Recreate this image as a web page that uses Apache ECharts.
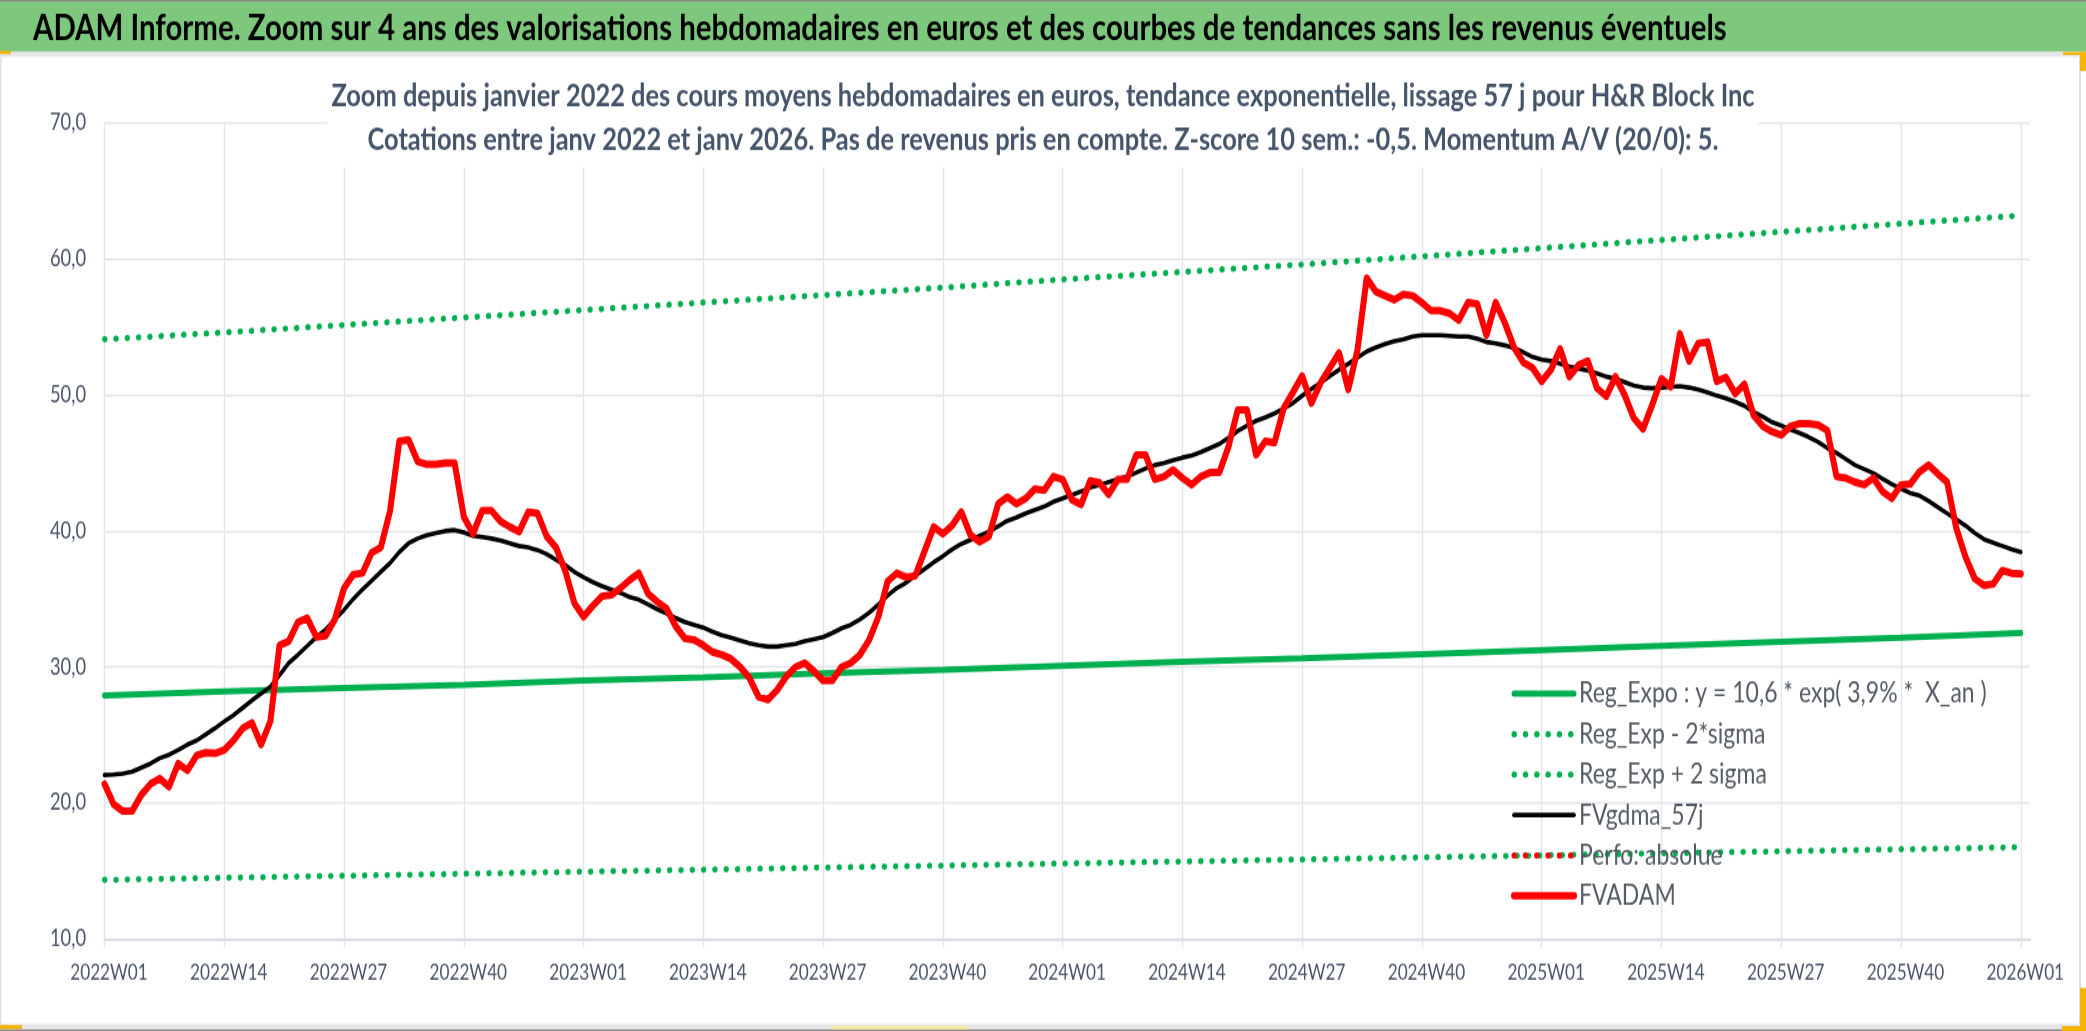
<!DOCTYPE html>
<html>
<head>
<meta charset="utf-8">
<script src="https://cdn.jsdelivr.net/npm/echarts@6/dist/echarts.min.js"></script>
<style>
html,body{margin:0;padding:0;background:#fff;overflow:hidden;}
#wrap{width:2086px;height:1031px;overflow:hidden;position:relative;}
#chart{width:2086px;height:825px;transform-origin:0 0;}
</style>
</head>
<body>
<div id="wrap"><div id="chart"></div></div>
<script>
// ---------- DATA ----------
const TITLE = "ADAM Informe. Zoom sur 4 ans des valorisations hebdomadaires en euros et des courbes de tendances sans les revenus éventuels";
const SUB1 = "Zoom depuis janvier 2022 des cours moyens hebdomadaires en euros, tendance exponentielle, lissage 57 j pour H&R Block Inc";
const SUB2 = "Cotations entre janv 2022 et janv 2026. Pas de revenus pris en compte. Z-score 10 sem.: -0,5. Momentum A/V (20/0): 5.";

const years = [2022, 2023, 2024, 2025];
const weeksPerYear = 52;
const tailWeeks = ["2026W01", "2026W02"];

// FVADAM (red), weekly values
const fvadam = [
21.4,19.9,19.4,19.4,20.6,21.4,21.8,21.2,22.9,22.4,
23.5,23.7,23.65,23.9,24.6,25.5,25.9,24.3,26.0,31.6,
31.9,33.3,33.6,32.2,32.3,33.5,35.8,36.8,36.9,38.4,
38.8,41.5,46.6,46.7,45.1,44.9,44.9,45.0,45.0,41.05,
39.8,41.5,41.5,40.7,40.3,39.95,41.4,41.3,39.6,38.8,
37.1,34.7,33.7,34.5,35.2,35.3,35.8,36.4,36.9,35.4,
34.8,34.3,33.0,32.1,32.0,31.6,31.1,30.9,30.6,30.0,
29.2,27.8,27.6,28.3,29.3,30.0,30.3,29.7,29.0,29.0,
30.0,30.3,30.9,32.0,33.7,36.3,36.9,36.6,36.7,38.5,
40.3,39.8,40.4,41.4,39.7,39.2,39.6,42.0,42.5,42.0,
42.4,43.1,43.0,44.0,43.8,42.3,41.95,43.7,43.55,42.7,
43.8,43.8,45.6,45.6,43.8,44.0,44.5,43.9,43.4,44.0,
44.3,44.3,46.2,48.9,48.9,45.6,46.6,46.5,49.05,50.2,
51.4,49.4,50.9,52.0,53.1,50.4,53.3,58.6,57.6,57.3,
57.0,57.4,57.3,56.8,56.2,56.2,56.0,55.5,56.8,56.7,
54.4,56.8,55.3,53.5,52.4,52.0,51.0,51.85,53.4,51.35,
52.2,52.5,50.5,49.9,51.35,50.0,48.3,47.5,49.3,51.2,
50.6,54.5,52.5,53.8,53.9,51.0,51.3,50.1,50.8,48.5,
47.7,47.3,47.05,47.7,47.9,47.9,47.8,47.4,44.0,43.9,
43.6,43.4,43.9,42.9,42.4,43.4,43.45,44.35,44.85,44.2,
43.6,40.2,38.1,36.5,36.0,36.1,37.1,36.9,36.85
];

// FVgdma_57j (black), weekly values
const fvgdma = [
22.06,22.1,22.16,22.3,22.6,22.9,23.3,23.55,23.9,24.3,
24.6,25.05,25.5,26.0,26.45,27.0,27.55,28.05,28.55,29.4,
30.3,30.9,31.55,32.2,32.75,33.5,34.2,35.0,35.7,36.35,
37.0,37.65,38.45,39.1,39.45,39.7,39.85,40.0,40.07,39.9,
39.65,39.55,39.45,39.3,39.1,38.9,38.8,38.6,38.3,37.9,
37.5,37.0,36.6,36.25,35.95,35.7,35.45,35.15,34.95,34.6,
34.25,33.95,33.6,33.3,33.1,32.9,32.6,32.35,32.15,31.95,
31.75,31.6,31.5,31.5,31.6,31.7,31.9,32.05,32.2,32.5,
32.85,33.1,33.5,34.0,34.6,35.25,35.8,36.2,36.7,37.2,
37.7,38.15,38.65,39.05,39.35,39.65,39.95,40.35,40.75,41.0,
41.3,41.55,41.8,42.15,42.4,42.65,42.9,43.2,43.4,43.6,
43.8,44.0,44.3,44.6,44.85,45.0,45.2,45.4,45.55,45.8,
46.1,46.4,46.85,47.35,47.75,48.1,48.35,48.65,49.0,49.4,
49.95,50.45,50.9,51.4,51.85,52.3,52.75,53.2,53.5,53.75,
53.95,54.1,54.3,54.4,54.4,54.4,54.35,54.3,54.3,54.15,
53.9,53.8,53.65,53.45,53.15,52.8,52.6,52.5,52.3,52.1,
51.95,51.8,51.6,51.35,51.2,50.95,50.7,50.55,50.5,50.55,
50.6,50.65,50.55,50.4,50.2,49.95,49.75,49.5,49.2,48.75,
48.4,48.0,47.75,47.45,47.2,46.9,46.55,46.1,45.75,45.3,
44.85,44.55,44.25,43.85,43.45,43.1,42.8,42.6,42.2,41.75,
41.3,40.85,40.4,39.85,39.4,39.15,38.9,38.65,38.45
];

// Trend lines, read at each labelled week (every 13 weeks)
const tickStep = 13;
const regExpo  = [27.9,28.2,28.45,28.7,29.0,29.25,29.55,29.8,30.1,30.4,30.65,30.95,31.25,31.55,31.85,32.15,32.5];
const regUpper = [54.1,54.6,55.15,55.7,56.25,56.8,57.35,57.9,58.5,59.05,59.6,60.2,60.8,61.4,62.0,62.6,63.2];
const regLower = [14.35,14.5,14.65,14.8,14.95,15.1,15.25,15.4,15.55,15.7,15.85,16.0,16.15,16.3,16.45,16.6,16.75];

const seriesNames = [
  "Reg_Expo : y = 10,6 * exp( 3,9% *  X_an )",
  "Reg_Exp - 2*sigma",
  "Reg_Exp + 2 sigma",
  "FVgdma_57j",
  "Perfo: absolue",
  "FVADAM"
];

// ---------- BUILD ----------
const categories = [];
years.forEach(y => { for (let w = 1; w <= weeksPerYear; w++) categories.push(y + "W" + (w < 10 ? "0" + w : w)); });
tailWeeks.forEach(c => categories.push(c));
const atTicks = arr => arr.map((v, k) => [k * tickStep, v]);

// The reference picture is vertically stretched; the chart is drawn at a
// smaller height and stretched by CSS to the full 1031 px.
const FULL_H = 1031, INNER_H = 825, S = FULL_H / INNER_H;
const el = document.getElementById('chart');
el.style.transform = 'scaleY(' + S + ')';
const Y = v => v / S;

const FAM = "Lato, 'Open Sans', sans-serif";
const mctx = document.createElement('canvas').getContext('2d');
function fit(text, weight, target) {
  mctx.font = weight + ' 100px ' + FAM;
  return 100 * target / mctx.measureText(text).width;
}
const titleSize = fit(TITLE, 'bold', 1695);
const subSize = fit(SUB1, 'bold', 1424);
const legSize = fit(seriesNames[0], 'normal', 408);
const yLabSize = fit('70,0', 'normal', 36);
const xLabSize = fit('2022W01', 'normal', 77.6);

const GREEN = '#00B050', RED = '#FF0000', BLACK = '#000000';
const LABEL = '#4A5468';
const GRIDC = '#E1E4EA';
const dotted = { type: [0.5, 10.8], cap: 'round', width: 5 };
const handle = '#F4B400';

const chart = echarts.init(el, null, { renderer: 'canvas', width: 2086, height: INNER_H });
const titleLH = Math.round(titleSize * 1.2);

const rect = (x, y, w, h, fill, z) => ({ type: 'rect', z: z || -9, shape: { x: x, y: Y(y), width: w, height: Y(h) }, style: { fill: fill } });

const option = {
  animation: false,
  backgroundColor: '#ffffff',
  graphic: [
    rect(0, 0, 2086, 52, '#7EC87E', -10),
    rect(0, 0, 2086, 1.5, '#8A8A8A'),
    rect(0, 52, 2086, 5, '#E4E6EA'),
    rect(0, 57, 1.5, 974, '#E2E3E6'),
    rect(2079, 57, 2, 968, '#DADCE0'),
    rect(0, 1024, 2086, 4, '#E3E4E8'),
    rect(0, 1029, 2086, 2, '#8C8C8C'),
    rect(0, 51, 11, 3, handle, -8),
    rect(2063, 52, 23, 3, handle, -8),
    rect(2080, 52, 6, 19, handle, -8),
    rect(0, 1025, 22, 4, handle, -8),
    rect(831, 1026, 137, 3, '#F7EE9A', -8),
    rect(2080, 988, 6, 43, handle, -8),
    rect(2062, 1026, 24, 5, handle, -8)
  ],
  title: [
    {
      text: TITLE, left: 33, top: Y(28) - titleLH / 2, padding: 0,
      textStyle: { fontFamily: FAM, fontWeight: 'bold', fontSize: titleSize, lineHeight: titleLH, color: '#000000' }
    },
    {
      text: SUB1 + '\n' + SUB2, left: 'center', top: Y(75), padding: [0, 4, Y(6), 4],
      backgroundColor: '#ffffff',
      textStyle: { fontFamily: FAM, fontWeight: 'bold', fontSize: subSize, lineHeight: Y(43), color: '#44546A' }
    }
  ],
  grid: { left: 104.5, right: 56, top: Y(123), bottom: Y(92), containLabel: false },
  legend: {
    orient: 'vertical', left: 1511, top: Y(693) - 11, padding: 0,
    itemWidth: 60, itemHeight: 12, itemGap: Y(40.2) - 22.8,
    data: seriesNames,
    textStyle: { fontFamily: FAM, fontSize: legSize, lineHeight: 22, color: '#555C66' },
    lineStyle: { width: 'inherit' },
    itemStyle: { opacity: 0 },
    selectedMode: false
  },
  xAxis: {
    type: 'category', data: categories, boundaryGap: false,
    axisLine: { show: true, lineStyle: { color: '#DADDE3', width: 2.2 } },
    axisTick: { show: true, interval: tickStep - 1, length: Y(8), lineStyle: { color: GRIDC, width: 1.4 } },
    axisLabel: { interval: tickStep - 1, margin: Y(973 - 939) - xLabSize / 2, fontFamily: FAM, fontSize: xLabSize, lineHeight: xLabSize, color: LABEL, padding: [0, 0, 0, 9] },
    splitLine: { show: true, interval: tickStep - 1, lineStyle: { color: GRIDC, width: 1.4 } }
  },
  yAxis: {
    type: 'value', min: 10, max: 70, interval: 10,
    axisLine: { show: false }, axisTick: { show: false },
    axisLabel: { margin: 18.5, fontFamily: FAM, fontSize: yLabSize, color: LABEL, formatter: v => v.toFixed(1).replace('.', ',') },
    splitLine: { show: true, lineStyle: { color: GRIDC, width: 1.4 } }
  },
  series: [
    { name: seriesNames[0], type: 'line', symbol: 'none', data: atTicks(regExpo), lineStyle: { color: GREEN, width: 5, cap: 'round' }, itemStyle: { color: GREEN } },
    { name: seriesNames[1], type: 'line', symbol: 'none', data: atTicks(regLower), lineStyle: Object.assign({ color: GREEN }, dotted), itemStyle: { color: GREEN } },
    { name: seriesNames[2], type: 'line', symbol: 'none', data: atTicks(regUpper), lineStyle: Object.assign({ color: GREEN }, dotted), itemStyle: { color: GREEN } },
    { name: seriesNames[3], type: 'line', symbol: 'none', data: fvgdma, lineStyle: { color: BLACK, width: 3.6, join: 'round', cap: 'round' }, itemStyle: { color: BLACK } },
    { name: seriesNames[4], type: 'line', symbol: 'none', data: [], lineStyle: Object.assign({ color: RED }, dotted), itemStyle: { color: RED } },
    { name: seriesNames[5], type: 'line', symbol: 'none', data: fvadam, lineStyle: { color: RED, width: 6, join: 'round', cap: 'round' }, itemStyle: { color: RED } }
  ]
};
chart.setOption(option);
</script>
</body>
</html>
